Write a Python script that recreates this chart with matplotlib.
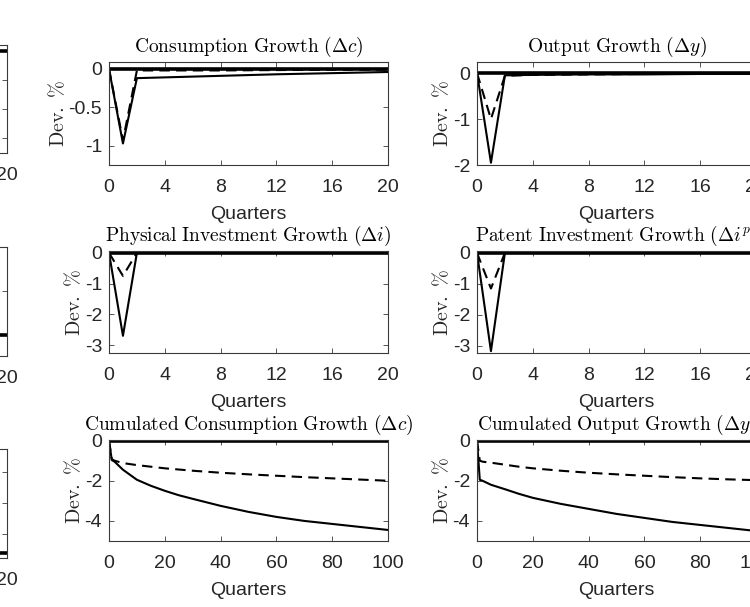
import numpy as np
import matplotlib.pyplot as plt

# ============================================================
# DATA
# ============================================================

q_short = [0, 1, 2, 4, 8, 12, 16, 20]
q_long = [0, 1, 2, 5, 10, 15, 20, 25, 30, 40, 50, 60, 70, 80, 90, 100]

cons_solid = [0, -0.97, -0.12, -0.11, -0.09, -0.07, -0.055, -0.04]
cons_dash = [0, -0.93, -0.02, -0.02, -0.02, -0.015, -0.01, -0.01]

out_solid = [0, -1.95, -0.05, -0.04, -0.03, -0.03, -0.02, -0.02]
out_dash = [0, -1.0, -0.06, -0.04, -0.03, -0.02, -0.02, -0.02]

phys_solid = [0, -2.7, 0, 0, 0, 0, 0, 0]
phys_dash = [0, -0.75, 0, 0, 0, 0, 0, 0]

pat_solid = [0, -3.17, 0, 0, 0, 0, 0, 0]
pat_dash = [0, -1.15, 0, 0, 0, 0, 0, 0]

cumc_solid = [0, -0.97, -1.05, -1.45, -1.95, -2.25, -2.5, -2.72, -2.9, -3.25,
              -3.55, -3.8, -4.0, -4.15, -4.3, -4.45]
cumc_dash = [0, -0.93, -1.0, -1.12, -1.22, -1.3, -1.38, -1.44, -1.5, -1.6,
             -1.68, -1.75, -1.82, -1.88, -1.94, -2.0]

cumy_solid = [0, -1.95, -2.0, -2.2, -2.42, -2.65, -2.85, -3.0, -3.15, -3.4,
              -3.65, -3.85, -4.05, -4.2, -4.35, -4.5]
cumy_dash = [0, -1.0, -1.05, -1.1, -1.2, -1.3, -1.38, -1.44, -1.5, -1.6,
             -1.68, -1.75, -1.82, -1.88, -1.93, -1.97]

# left column (only its right edge is visible)
left_levels = [0, -2, -3.6]

# ============================================================
# STYLE
# ============================================================

plt.rcParams['mathtext.fontset'] = 'cm'
plt.rcParams['font.family'] = ['Liberation Sans', 'DejaVu Sans']
plt.rcParams['axes.unicode_minus'] = False

W, H = 750, 607
fig = plt.figure(figsize=(W / 100, H / 100), dpi=100)

SPINE = '#3a3a3a'
TXT = '#262626'


def px_axes(left, right, top, bottom):
    return fig.add_axes([left / W, 1 - bottom / H, (right - left) / W, (bottom - top) / H])


def style(ax, xt, yt, ylab, title=None, xlab=True):
    ax.set_xticks(xt)
    ax.set_yticks(yt)
    ax.set_yticklabels([f"{v:g}" for v in yt])
    ax.tick_params(direction='in', length=3.5, width=0.6, colors=SPINE,
                   labelcolor=TXT, labelsize=14, top=True, right=True)
    ax.tick_params(axis='x', pad=10)
    ax.tick_params(axis='y', pad=5)
    for s in ax.spines.values():
        s.set_color(SPINE)
        s.set_linewidth(0.8)
    if ylab:
        ax.set_ylabel(r"$\mathrm{Dev.\ \%}$", fontsize=14.5, color=TXT, labelpad=0)
    if xlab:
        ax.set_xlabel("Quarters", fontsize=14, color=TXT, labelpad=7)
    if title:
        ax.set_title(title, fontsize=14, color='black', pad=7)


def panel(ax, x, solid, dash, xmax):
    ax.plot([0, xmax], [0, 0], color='black', lw=2.6, solid_capstyle='butt')
    ax.plot(x, dash, color='black', lw=1.5, dashes=(5, 3))
    ax.plot(x, solid, color='black', lw=1.5)
    ax.set_xlim(0, xmax)


# ============================================================
# LEFT COLUMN (cropped)
# ============================================================

lc = [(45, 153, (-3.52, 0.2), [-3, -2, -1, 0]),
      (247, 356, (-2.48, 0.0), [-2, -1, 0]),
      (449, 558, (-3.77, -0.26), [-3, -2, -1])]
for (top, bot, yl, yt), lev in zip(lc, left_levels):
    ax = px_axes(-272, 7, top, bot)
    ax.plot([0, 20], [lev, lev], color='black', lw=2.6)
    ax.set_xlim(0, 20)
    ax.set_ylim(*yl)
    style(ax, [0, 4, 8, 12, 16, 20], yt, False, xlab=False)

# ============================================================
# MIDDLE + RIGHT COLUMNS
# ============================================================

rows = [(62, 165), (251, 353), (440, 541)]
cols = [(109, 388), (477, 756)]

specs = [
    (0, 0, r"$\mathrm{Consumption\ Growth\ }(\Delta c)$", q_short, cons_solid, cons_dash, 20,
     (-1.25, 0.09), [-1, -0.5, 0]),
    (0, 1, r"$\mathrm{Output\ Growth\ }(\Delta y)$", q_short, out_solid, out_dash, 20,
     (-2.0, 0.24), [-2, -1, 0]),
    (1, 0, r"$\mathrm{Physical\ Investment\ Growth\ }(\Delta i)$", q_short, phys_solid, phys_dash, 20,
     (-3.26, 0.06), [-3, -2, -1, 0]),
    (1, 1, r"$\mathrm{Patent\ Investment\ Growth\ }(\Delta i^p)$", q_short, pat_solid, pat_dash, 20,
     (-3.23, 0.06), [-3, -2, -1, 0]),
    (2, 0, r"$\mathrm{Cumulated\ Consumption\ Growth\ }(\Delta c)$", q_long, cumc_solid, cumc_dash, 100,
     (-5.0, 0.03), [-4, -2, 0]),
    (2, 1, r"$\mathrm{Cumulated\ Output\ Growth\ }(\Delta y)$", q_long, cumy_solid, cumy_dash, 100,
     (-5.0, 0.03), [-4, -2, 0]),
]

for r, c, title, x, s, d, xmax, yl, yt in specs:
    top, bot = rows[r]
    left, right = cols[c]
    ax = px_axes(left, right, top, bot)
    panel(ax, x, s, d, xmax)
    ax.set_ylim(*yl)
    xt = [0, 4, 8, 12, 16, 20] if xmax == 20 else [0, 20, 40, 60, 80, 100]
    style(ax, xt, yt, True, title)

fig.savefig("out.png", dpi=100)
